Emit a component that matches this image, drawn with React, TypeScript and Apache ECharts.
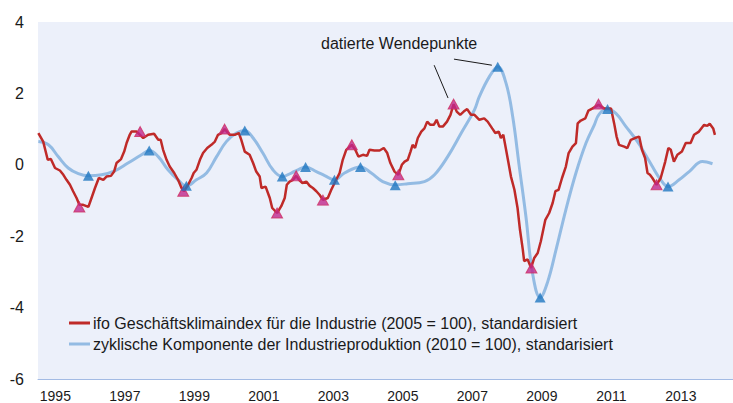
import React, { useEffect, useRef } from 'react';
import * as echarts from 'echarts';

const FONT = '"Liberation Sans", Arial, Helvetica, sans-serif';

// category labels of the time axis (one category per year)
const years = ['1995', '1996', '1997', '1998', '1999', '2000', '2001', '2002', '2003', '2004', '2005', '2006', '2007', '2008', '2009', '2010', '2011', '2012', '2013', '2014'];

const ifoName = 'ifo Geschäftsklimaindex für die Industrie (2005 = 100), standardisiert';
const ipName = 'zyklische Komponente der Industrieproduktion (2010 = 100), standarisiert';

// ifo business climate (standardised), [decimal year, value]
const ifoIndex: [number, number][] = [
  [1995.01, 0.89], [1995.15, 0.65], [1995.28, 0.14], [1995.37, 0.16], [1995.49, -0.09], [1995.63, -0.16],
  [1995.73, -0.28], [1995.82, -0.42], [1995.92, -0.56], [1996.01, -0.74], [1996.11, -0.93], [1996.19, -1.12],
  [1996.30, -1.12], [1996.45, -1.18], [1996.54, -0.93], [1996.64, -0.65], [1996.75, -0.37], [1996.88, -0.42],
  [1996.97, -0.33], [1997.10, -0.31], [1997.19, -0.19], [1997.26, 0.05], [1997.39, 0.16], [1997.48, 0.37],
  [1997.55, 0.61], [1997.64, 0.84], [1997.69, 0.93], [1997.84, 0.93], [1998.03, 0.75], [1998.17, 0.84],
  [1998.34, 0.87], [1998.46, 0.70], [1998.53, 0.70], [1998.60, 0.42], [1998.70, 0.14], [1998.79, -0.05],
  [1998.92, -0.23], [1999.03, -0.42], [1999.13, -0.65], [1999.20, -0.74], [1999.32, -0.56], [1999.42, -0.37],
  [1999.48, -0.23], [1999.56, -0.14], [1999.66, 0.14], [1999.75, 0.33], [1999.87, 0.47], [1999.99, 0.56],
  [2000.09, 0.65], [2000.18, 0.84], [2000.28, 0.89], [2000.37, 1.0], [2000.52, 0.84], [2000.66, 0.84],
  [2000.78, 0.89], [2000.85, 0.70], [2000.95, 0.37], [2001.09, 0.28], [2001.19, 0.05], [2001.28, -0.19],
  [2001.38, -0.33], [2001.43, -0.65], [2001.55, -0.61], [2001.67, -0.93], [2001.74, -1.21], [2001.88, -1.35],
  [2002.00, -1.16], [2002.10, -0.93], [2002.16, -0.56], [2002.24, -0.47], [2002.34, -0.42], [2002.43, -0.31],
  [2002.51, -0.42], [2002.61, -0.51], [2002.72, -0.47], [2002.82, -0.59], [2002.91, -0.65], [2003.01, -0.74],
  [2003.10, -0.84], [2003.20, -0.98], [2003.34, -0.93], [2003.44, -0.70], [2003.58, -0.42], [2003.68, -0.23],
  [2003.77, 0.14], [2003.87, 0.42], [2004.03, 0.56], [2004.13, 0.42], [2004.22, 0.23], [2004.35, 0.28],
  [2004.47, 0.25], [2004.54, 0.42], [2004.68, 0.40], [2004.83, 0.40], [2004.95, 0.47], [2005.05, 0.33],
  [2005.14, 0.05], [2005.26, -0.19], [2005.37, -0.28], [2005.47, 0.0], [2005.55, 0.09], [2005.64, 0.14],
  [2005.72, 0.37], [2005.78, 0.56], [2005.85, 0.47], [2005.93, 0.75], [2006.03, 0.93], [2006.12, 1.02],
  [2006.20, 1.21], [2006.29, 1.12], [2006.39, 1.12], [2006.47, 1.26], [2006.55, 1.07], [2006.65, 1.07],
  [2006.77, 1.21], [2006.87, 1.40], [2006.96, 1.70], [2007.05, 1.49], [2007.15, 1.40], [2007.25, 1.49],
  [2007.35, 1.56], [2007.46, 1.40], [2007.56, 1.40], [2007.70, 1.26], [2007.84, 1.30], [2007.94, 1.21],
  [2008.07, 1.02], [2008.16, 0.89], [2008.26, 0.93], [2008.32, 0.75], [2008.39, 0.84], [2008.47, 0.42],
  [2008.54, 0.05], [2008.61, -0.33], [2008.71, -0.70], [2008.80, -1.21], [2008.87, -1.82], [2008.95, -2.37],
  [2008.99, -2.70], [2009.09, -2.65], [2009.19, -2.89], [2009.28, -2.61], [2009.38, -2.47], [2009.47, -2.14],
  [2009.60, -1.54], [2009.71, -1.35], [2009.81, -1.07], [2009.89, -0.74], [2009.98, -0.70], [2010.08, -0.37],
  [2010.19, -0.05], [2010.27, 0.33], [2010.38, 0.51], [2010.48, 0.61], [2010.53, 1.16], [2010.62, 1.24],
  [2010.75, 1.30], [2010.84, 1.52], [2010.96, 1.58], [2011.13, 1.68], [2011.29, 1.58], [2011.49, 1.58],
  [2011.58, 1.16], [2011.65, 0.79], [2011.72, 0.56], [2011.87, 0.51], [2011.96, 0.47], [2012.06, 0.70],
  [2012.18, 0.75], [2012.30, 0.79], [2012.38, 0.42], [2012.47, 0.19], [2012.54, -0.23], [2012.61, -0.28],
  [2012.68, -0.37], [2012.80, -0.56], [2012.92, -0.37], [2013.05, 0.09], [2013.14, 0.47], [2013.21, 0.42],
  [2013.30, 0.09], [2013.40, 0.28], [2013.53, 0.37], [2013.64, 0.61], [2013.78, 0.61], [2013.88, 0.84],
  [2014.02, 0.93], [2014.17, 1.12], [2014.26, 1.09], [2014.33, 1.15], [2014.43, 1.02], [2014.48, 0.84],
];

// cyclical component of industrial production (standardised), [decimal year, value]
const ipCycle: [number, number][] = [
  [1995.01, 0.65], [1995.30, 0.56], [1995.58, 0.23], [1995.87, -0.09], [1996.16, -0.25], [1996.45, -0.31],
  [1996.83, -0.28], [1997.21, -0.17], [1997.59, 0.05], [1997.98, 0.28], [1998.20, 0.40], [1998.46, 0.23],
  [1998.74, -0.14], [1999.03, -0.42], [1999.27, -0.59], [1999.56, -0.42], [1999.85, -0.23], [2000.14, 0.23],
  [2000.42, 0.65], [2000.71, 0.89], [2000.95, 0.96], [2001.19, 0.75], [2001.47, 0.33], [2001.76, -0.14],
  [2002.03, -0.33], [2002.29, -0.23], [2002.48, -0.14], [2002.70, -0.06], [2003.01, -0.19], [2003.25, -0.30],
  [2003.53, -0.42], [2003.82, -0.23], [2004.28, -0.06], [2004.59, -0.23], [2004.92, -0.47], [2005.28, -0.56],
  [2005.64, -0.53], [2006.12, -0.47], [2006.41, -0.28], [2006.79, 0.23], [2007.18, 0.89], [2007.56, 1.54],
  [2007.70, 1.91], [2007.99, 2.47], [2008.23, 2.75], [2008.47, 2.28], [2008.66, 1.35], [2008.85, -0.05],
  [2009.04, -1.44], [2009.23, -3.03], [2009.45, -3.72], [2009.66, -3.30], [2009.91, -2.37], [2010.19, -1.26],
  [2010.48, -0.23], [2010.77, 0.61], [2011.01, 1.12], [2011.15, 1.42], [2011.39, 1.56], [2011.63, 1.44],
  [2011.92, 1.07], [2012.12, 0.82], [2012.30, 0.58], [2012.50, 0.25], [2012.68, -0.05], [2012.92, -0.42],
  [2013.13, -0.61], [2013.45, -0.42], [2013.74, -0.19], [2014.12, 0.09], [2014.41, 0.03],
];

// dated turning points
const ifoTurningPoints: [number, number][] = [
  [1996.19, -1.18], [1997.94, 0.93], [1999.18, -0.74], [2000.37, 1.0], [2001.88, -1.35], [2002.43, -0.31],
  [2003.20, -0.99], [2004.03, 0.56], [2005.37, -0.28], [2006.96, 1.70], [2009.20, -2.89], [2011.13, 1.70],
  [2012.80, -0.56],
];
const ipTurningPoints: [number, number][] = [
  [1996.45, -0.31], [1998.20, 0.40], [1999.27, -0.59], [2000.95, 0.96], [2002.03, -0.33], [2002.70, -0.06],
  [2003.53, -0.42], [2004.28, -0.06], [2005.28, -0.57], [2008.23, 2.75], [2009.45, -3.72], [2011.39, 1.56],
  [2013.13, -0.61],
];

const annotationText = 'datierte Wendepunkte';
// leader lines of the annotation, in data coordinates
const annotationLines: [number, number][][] = [
  [[2006.40, 2.79], [2006.80, 1.87]],
  [[2006.97, 2.96], [2008.06, 2.79]],
];

export default function App() {
  const ref = useRef<HTMLDivElement>(null);
  useEffect(() => {
    if (!ref.current) return;
    const chart = echarts.init(ref.current, null, { renderer: 'svg' });
    chart.setOption({
      animation: false,
      textStyle: { fontFamily: FONT },
      grid: {
        left: 38, right: 0, top: 22, bottom: 23,
        show: true, backgroundColor: '#ECF0FA', borderWidth: 0,
      },
      legend: {
        data: [ifoName, ipName],
        orient: 'vertical',
        left: 69, top: 315,
        icon: 'rect',
        itemWidth: 21, itemHeight: 3, itemGap: 5,
        padding: 0,
        selectedMode: false,
        textStyle: { fontSize: 16, color: '#1a1a1a', fontFamily: FONT, lineHeight: 16, padding: [0, 0, 0, -2] },
      },
      xAxis: [
        { type: 'value', min: 1995, max: 2015, show: false },
        {
          type: 'category', data: years, position: 'bottom', boundaryGap: true,
          axisLine: { lineStyle: { color: '#A3BBE4', width: 1 } },
          axisTick: { interval: 0, length: 4, lineStyle: { color: '#A3BBE4' } },
          axisLabel: { interval: 1, fontSize: 14, color: '#1a1a1a', margin: 10, fontFamily: FONT },
          splitLine: { show: false },
        },
      ],
      yAxis: {
        type: 'value', min: -6, max: 4, interval: 2,
        axisLine: { show: false }, axisTick: { show: false }, splitLine: { show: false },
        axisLabel: { fontSize: 16, color: '#1a1a1a', margin: 14, fontFamily: FONT },
      },
      graphic: [
        { type: 'text', left: 321, top: 35, style: { text: annotationText, fontSize: 16, fill: '#1a1a1a', fontFamily: FONT } },
      ],
      series: [
        {
          name: ipName, type: 'line', xAxisIndex: 0, yAxisIndex: 0, data: ipCycle,
          smooth: 0.4, showSymbol: false, symbol: 'none', z: 2,
          lineStyle: { width: 3, color: '#93BBE3' }, itemStyle: { color: '#93BBE3' },
        },
        {
          name: ifoName, type: 'line', xAxisIndex: 0, yAxisIndex: 0, data: ifoIndex,
          showSymbol: false, symbol: 'none', z: 3,
          lineStyle: { width: 2.5, color: '#BF2A28' }, itemStyle: { color: '#BF2A28' },
          markLine: {
            silent: true, symbol: ['none', 'none'], label: { show: false },
            lineStyle: { color: '#1a1a1a', width: 1, type: 'solid' },
            emphasis: { disabled: true },
            data: annotationLines.map(([a, b]) => [{ coord: a }, { coord: b }]),
          },
        },
        {
          name: 'ifo Wendepunkte', type: 'scatter', xAxisIndex: 0, yAxisIndex: 0, data: ifoTurningPoints,
          symbol: 'triangle', symbolSize: [11, 10], z: 4,
          itemStyle: { color: '#C0288C', borderColor: '#D03060', borderWidth: 1 },
        },
        {
          name: 'IP Wendepunkte', type: 'scatter', xAxisIndex: 0, yAxisIndex: 0, data: ipTurningPoints,
          symbol: 'triangle', symbolSize: [11, 10], z: 5,
          itemStyle: { color: '#1F77C0' },
        },
      ],
    });
    return () => chart.dispose();
  }, []);
  return <div ref={ref} style={{ position: 'absolute', left: 0, top: 0, width: 733, height: 403 }} />;
}
